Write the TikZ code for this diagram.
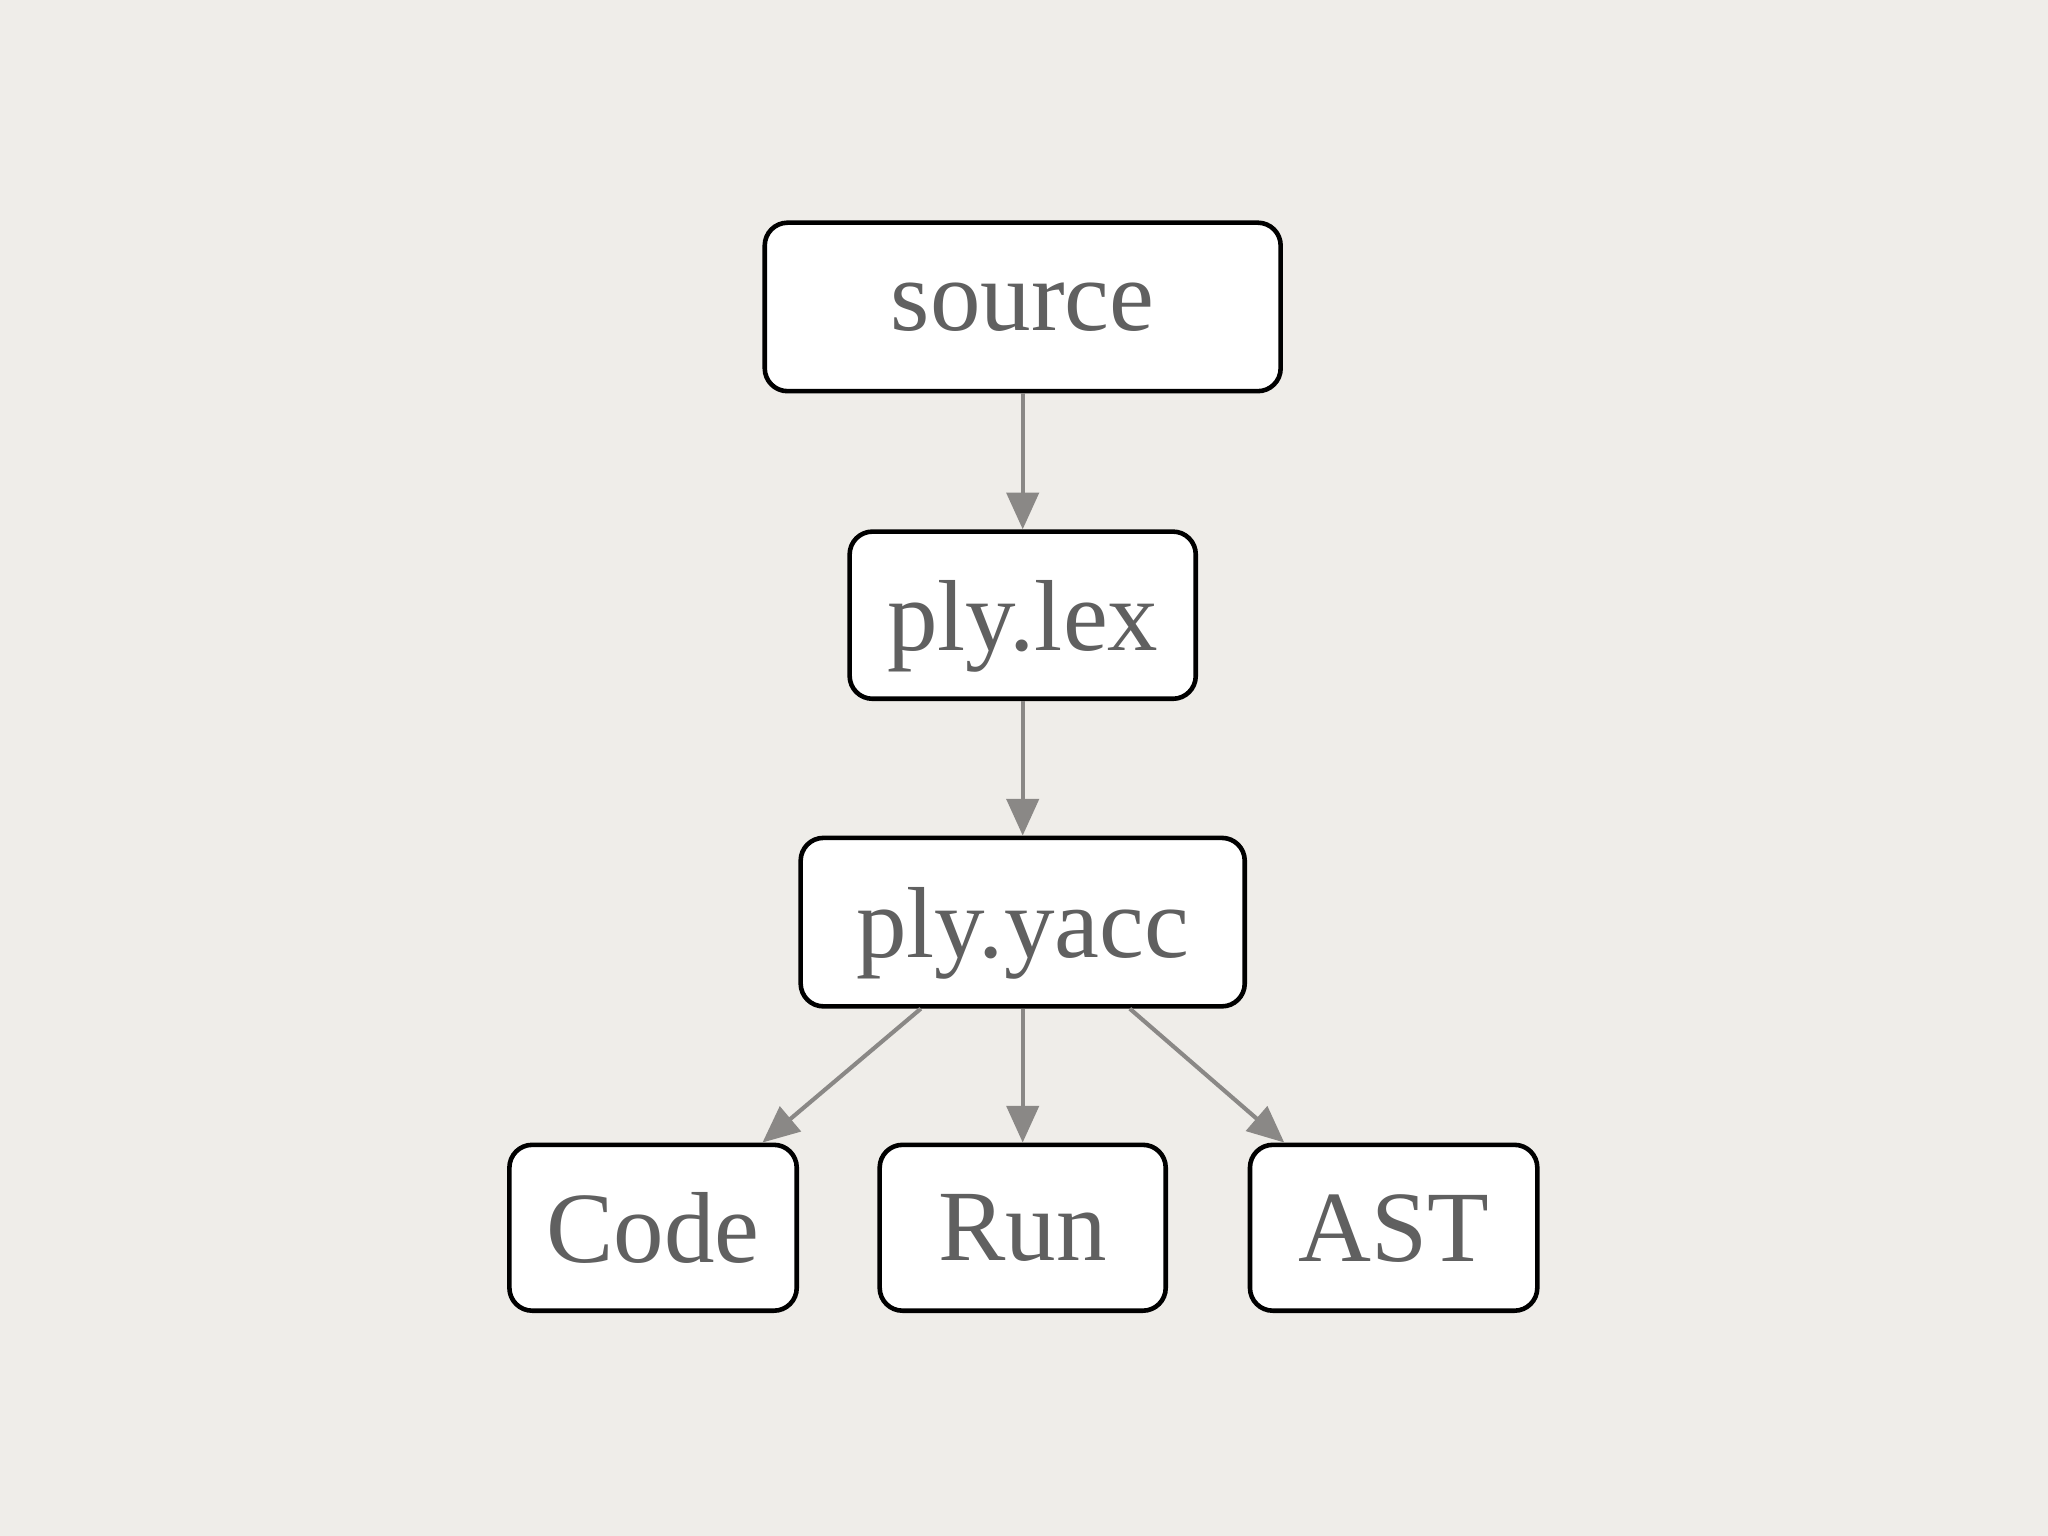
\documentclass[tikz,border=0pt]{standalone}
\usepackage{fontspec}
\setmainfont{Liberation Serif}
\usetikzlibrary{arrows.meta}
\definecolor{bg}{HTML}{EFEDE9}
\definecolor{txt}{HTML}{606060}
\definecolor{arr}{HTML}{8A8886}
\begin{document}
\begin{tikzpicture}[x=0.02cm,y=-0.02cm,
  box/.style={draw=black,fill=white,line width=2pt,rounded corners=0.35cm,
    text=txt,font=\fontsize{44}{50}\selectfont,inner sep=0pt,text depth=0pt},
  conn/.style={draw=arr,line width=1.8pt,-{Triangle[length=16pt,width=14pt]}}]
\fill[bg] (0,0) rectangle (1568,1176);
\useasboundingbox (0,0) rectangle (1568,1176);
\node[box,minimum width=395*0.02cm,minimum height=129*0.02cm] (src) at (783,235) {source};
\node[box,minimum width=265*0.02cm,minimum height=128*0.02cm] (lex) at (783,471) {ply.lex};
\node[box,minimum width=340*0.02cm,minimum height=129*0.02cm] (yacc) at (783,706) {ply.yacc};
\node[box,minimum width=220*0.02cm,minimum height=127*0.02cm] (code) at (500,940) {Code};
\node[box,minimum width=219*0.02cm,minimum height=127*0.02cm] (run) at (783,940) {Run};
\node[box,minimum width=220*0.02cm,minimum height=127*0.02cm] (ast) at (1067,940) {AST};
\draw[conn] (src.south) -- (lex.north);
\draw[conn] (lex.south) -- (yacc.north);
\draw[conn] (yacc.south) -- (run.north);
\draw[conn] ([xshift=-78*0.02cm]yacc.south) -- ([xshift=-28*0.02cm]code.north east);
\draw[conn] ([xshift=82*0.02cm]yacc.south) -- ([xshift=28*0.02cm]ast.north west);
\end{tikzpicture}
\end{document}
